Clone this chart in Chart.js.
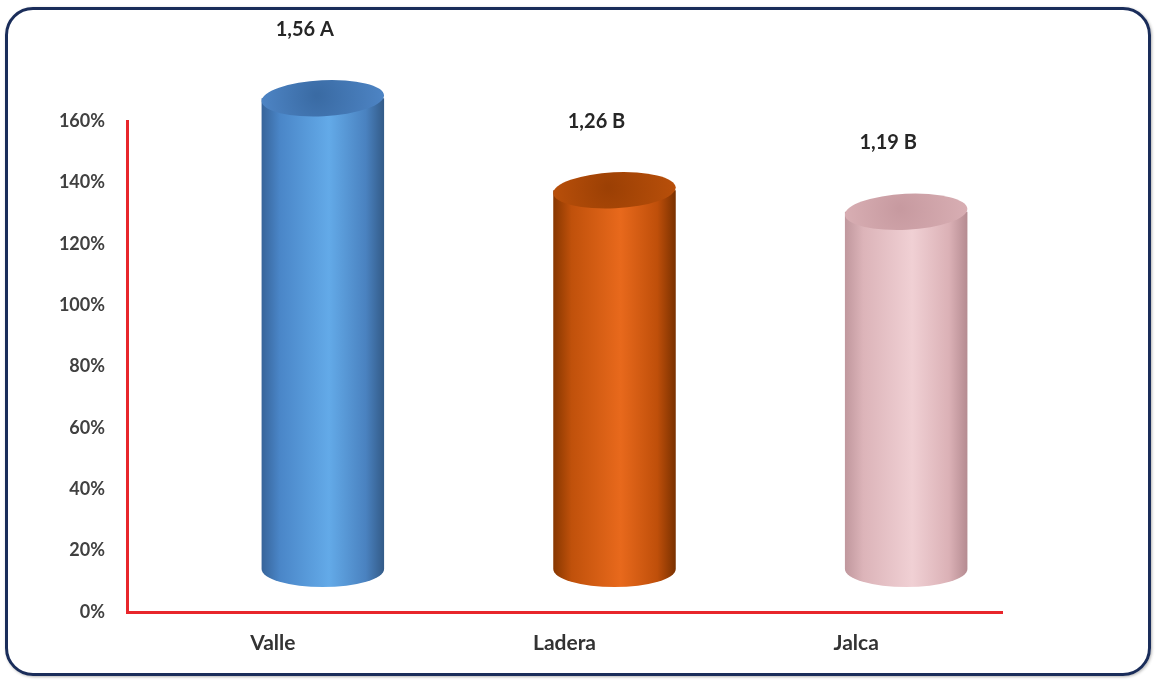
<!DOCTYPE html>
<html>
<head>
<meta charset="utf-8">
<script src="https://cdn.jsdelivr.net/npm/chart.js@4"></script>
<style>
  html, body { margin: 0; padding: 0; background: #ffffff; }
  #frame {
    position: absolute; left: 5px; top: 7px; width: 1146px; height: 669px;
    box-sizing: border-box; border: 3px solid #1a2d5a; border-radius: 28px;
    box-shadow: 1px 1px 3px rgba(0,0,0,0.3);
  }
  #wrap { position: absolute; left: 0; top: 0; width: 1159px; height: 680px; }
</style>
</head>
<body>
<div id="frame"></div>
<div id="wrap"><canvas id="chart" width="1159" height="680"></canvas></div>
<script>
// data
const categories = ['Valle', 'Ladera', 'Jalca'];
const values = [1.56, 1.26, 1.19];
const groupLetters = ['A', 'B', 'B'];
const tickLabels = ['0%', '20%', '40%', '60%', '80%', '100%', '120%', '140%', '160%'];

// cylinder look, one per bar
const cylStyles = [
    { body: ['#37649a', '#4a86c8', '#63aae8', '#4a82c0', '#335b88'], top: '#4d84c4', topIn: '#3a6ba4' },
    { body: ['#873700', '#c0510b', '#e8691c', '#bf4f0a', '#7a3100'], top: '#b84f0a', topIn: '#9c4004' },
    { body: ['#c0979d', '#dcb4b9', '#f0d0d4', '#dbb1b6', '#b58b91'], top: '#d8aeb3', topIn: '#c79aa0' }
];

const depthX = 50;      // 3d offset of the cylinders
const depthTop = -35;
const depthBottom = -43;
const capRy = 18;

const cylinderPlugin = {
    id: 'cylinders',
    afterDatasetsDraw(chart) {
        const ctx = chart.ctx;
        const meta = chart.getDatasetMeta(0);
        meta.data.forEach((bar, i) => {
            const st = cylStyles[i];
            const cx = bar.x + depthX;
            const rx = bar.width / 2;
            const top = bar.y + depthTop;
            const bottom = bar.base + depthBottom;
            const g = ctx.createLinearGradient(cx - rx, 0, cx + rx, 0);
            const stops = [0, 0.15, 0.55, 0.85, 1];
            st.body.forEach((c, k) => g.addColorStop(stops[k], c));

            ctx.save();
            // body + bottom half ellipse
            ctx.beginPath();
            ctx.moveTo(cx - rx, top);
            ctx.lineTo(cx - rx, bottom);
            ctx.ellipse(cx, bottom, rx, capRy, 0, Math.PI, 0, true);
            ctx.lineTo(cx + rx, top);
            ctx.closePath();
            ctx.fillStyle = g;
            ctx.fill();

            // top cap
            const rg = ctx.createRadialGradient(cx - rx * 0.1, top - 3, 2, cx, top, rx);
            rg.addColorStop(0, st.topIn);
            rg.addColorStop(1, st.top);
            ctx.beginPath();
            ctx.ellipse(cx, top, rx, capRy, -0.05, 0, Math.PI * 2);
            ctx.fillStyle = rg;
            ctx.fill();
            ctx.restore();

            // value label
            ctx.save();
            ctx.font = 'bold 20px Lato';
            ctx.fillStyle = '#262626';
            ctx.textAlign = 'center';
            ctx.textBaseline = 'middle';
            const lbl = values[i].toFixed(2).replace('.', ',') + ' ' + groupLetters[i];
            ctx.fillText(lbl, cx - 18, bar.y - 104);
            ctx.restore();
        });
    }
};

new Chart(document.getElementById('chart'), {
    type: 'bar',
    data: {
        labels: categories,
        datasets: [{
            data: values,
            backgroundColor: 'rgba(0,0,0,0)',
            borderWidth: 0,
            categoryPercentage: 1,
            barPercentage: 0.42
        }]
    },
    options: {
        responsive: false,
        animation: false,
        layout: { padding: { left: 0, right: 157, top: 121, bottom: 0 } },
        plugins: { legend: { display: false }, tooltip: { enabled: false } },
        scales: {
            x: {
                grid: { display: false, drawTicks: false },
                border: { display: true, color: '#e8262b', width: 3 },
                ticks: { font: { family: 'Lato', size: 21, weight: 'bold' }, color: '#333333', padding: 19 },
                afterFit(scale) { scale.height = 68; }
            },
            y: {
                min: 0,
                max: 1.6,
                grid: { display: false, drawTicks: false },
                border: { display: true, color: '#e8262b', width: 3 },
                ticks: {
                    stepSize: 0.2,
                    font: { family: 'Lato', size: 18, weight: 'bold' },
                    color: '#404040',
                    padding: 22,
                    callback: (v, idx) => tickLabels[idx]
                },
                afterFit(scale) { scale.width = 127; }
            }
        }
    },
    plugins: [cylinderPlugin]
});
</script>
</body>
</html>
